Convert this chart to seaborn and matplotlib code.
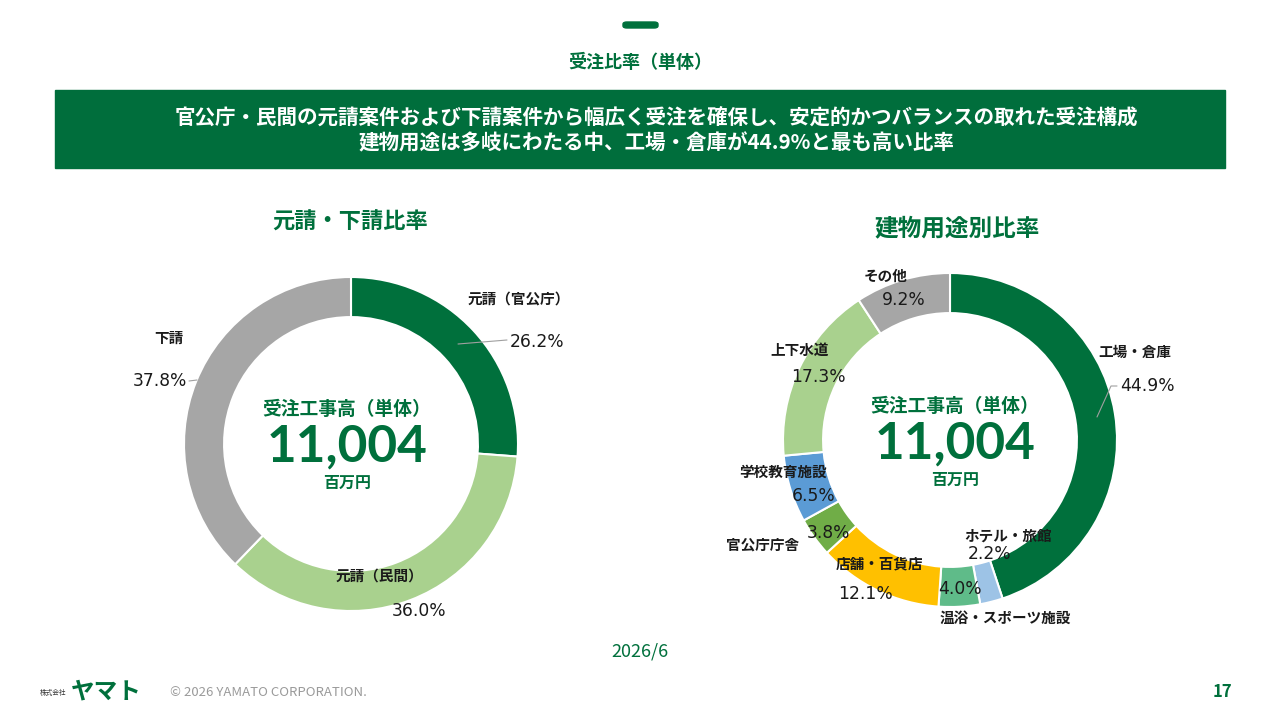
import matplotlib
matplotlib.use("Agg")
import matplotlib.pyplot as plt
import seaborn as sns
from matplotlib.patches import FancyBboxPatch, Rectangle

sns.set_theme(style="white")
plt.rcParams['font.family'] = ['Noto Sans CJK JP', 'DejaVu Sans']

# ---------------- data ----------------
left_categories = ["元請（官公庁）", "元請（民間）", "下請"]
left_values = [26.2, 36.0, 37.8]

right_categories = ["工場・倉庫", "ホテル・旅館", "温浴・スポーツ施設", "店舗・百貨店",
                    "官公庁庁舎", "学校教育施設", "上下水道", "その他"]
right_values = [44.9, 2.2, 4.0, 12.1, 3.8, 6.5, 17.3, 9.2]

total_label = "受注工事高（単体）"
total_value = "11,004"
total_unit = "百万円"

# ---------------- style ----------------
GREEN = "#00703c"
left_colors = [GREEN, "#a9d18e", "#a6a6a6"]
right_colors = [GREEN, "#9dc3e6", "#5fbb89", "#ffc000", "#70ad47", "#5b9bd5", "#a9d18e", "#a6a6a6"]

W, H = 1280, 720
fig = plt.figure(figsize=(W / 100, H / 100), dpi=100)
fig.patch.set_facecolor("white")


def fx(x):
    return x / W


def fy(y):
    return 1 - y / H


def ptext(x, y, s, **kw):
    fig.text(fx(x), fy(y), s, **kw)


# top small bar
fig.patches.append(FancyBboxPatch((fx(623), fy(28)), fx(35), 6 / H,
                                  boxstyle="round,pad=0,rounding_size=0.003",
                                  transform=fig.transFigure, color=GREEN, zorder=2))
ptext(640, 62, "受注比率（単体）", ha="center", va="center", fontsize=13,
      fontweight="bold", color=GREEN)

# banner
fig.patches.append(Rectangle((fx(55), fy(168)), fx(1170), 78 / H,
                             transform=fig.transFigure, color="#006e3c", zorder=1))
ptext(656, 118, "官公庁・民間の元請案件および下請案件から幅広く受注を確保し、安定的かつバランスの取れた受注構成",
      ha="center", va="center", fontsize=14.8, fontweight="bold", color="white")
ptext(656, 143, "建物用途は多岐にわたる中、工場・倉庫が44.9%と最も高い比率",
      ha="center", va="center", fontsize=14.8, fontweight="bold", color="white")

# subtitles
ptext(350, 222, "元請・下請比率", ha="center", va="center", fontsize=16,
      fontweight="bold", color=GREEN)
ptext(957, 228, "建物用途別比率", ha="center", va="center", fontsize=17,
      fontweight="bold", color=GREEN)

R = 167  # outer radius, px
LIM = 1.3


def donut(cx, cy, values, colors):
    size = 2 * LIM * R
    ax = fig.add_axes([fx(cx - size / 2), fy(cy + size / 2), size / W, size / H])
    ax.pie(values, colors=colors, startangle=90, counterclock=False, radius=1,
           wedgeprops=dict(width=0.24, edgecolor="white", linewidth=1.5))
    ax.set_xlim(-LIM, LIM)
    ax.set_ylim(-LIM, LIM)
    ax.set_aspect("equal")
    ax.axis("off")
    return ax


donut(351, 444, left_values, left_colors)
donut(950, 440, right_values, right_colors)


def center_text(cx, y1, y2, y3):
    ptext(cx, y1, total_label, ha="center", va="center", fontsize=13.5,
          fontweight="bold", color=GREEN)
    ptext(cx, y2, total_value, ha="center", va="center", fontsize=37,
          fontweight="bold", color=GREEN, family=["Lato", "DejaVu Sans"])
    ptext(cx, y3, total_unit, ha="center", va="center", fontsize=11.5,
          fontweight="bold", color=GREEN)


center_text(347, 409, 447, 483)
center_text(955, 406, 444, 480)

LAB = dict(fontsize=10.5, fontweight="bold", color="#1a1a1a", va="center")
PCT = dict(fontsize=12.3, color="#1a1a1a", va="center", family=["DejaVu Sans"])


def pct(v):
    return f"{v:.1f}%"


# left labels
ptext(468, 300, left_categories[0], ha="left", **LAB)
ptext(510, 342, pct(left_values[0]), ha="left", **PCT)
ptext(379, 576, left_categories[1], ha="center", **LAB)
ptext(419, 611, pct(left_values[1]), ha="center", **PCT)
ptext(169, 338, left_categories[2], ha="center", **LAB)
ptext(187, 381, pct(left_values[2]), ha="right", **PCT)

# leader lines (figure pixel coords)
fig.lines.append(plt.Line2D([fx(458), fx(507)], [fy(344), fy(340)],
                            transform=fig.transFigure, color="#a0a0a0", lw=0.8))
fig.lines.append(plt.Line2D([fx(189), fx(197)], [fy(381), fy(380)],
                            transform=fig.transFigure, color="#a0a0a0", lw=0.8))
fig.lines.append(plt.Line2D([fx(1097), fx(1111), fx(1117)], [fy(417), fy(386), fy(386)],
                            transform=fig.transFigure, color="#a0a0a0", lw=0.8))

# right labels
right_layout = [
    # (label x, label y, label ha, pct x, pct y, pct ha)
    (1098, 352, "left", 1120, 386, "left"),
    (1008, 536, "center", 990, 554, "center"),
    (1005, 618, "center", 960, 589, "center"),
    (880, 563, "center", 866, 594, "center"),
    (763, 545, "center", 828, 533, "center"),
    (783, 472, "center", 814, 496, "center"),
    (800, 350, "center", 818, 377, "center"),
    (886, 276, "center", 904, 300, "center"),
]
for cat, val, (lx, ly, lha, px_, py_, pha) in zip(right_categories, right_values, right_layout):
    ptext(lx, ly, cat, ha=lha, **LAB)
    ptext(px_, py_, pct(val), ha=pha, **PCT)

# footer
ptext(640, 652, "2026/6", ha="center", va="center", fontsize=13, color=GREEN)
ptext(40, 693, "株式会社", ha="left", va="center", fontsize=4.8, color="#333333")
ptext(71, 691, "ヤマト", ha="left", va="center", fontsize=17, fontweight="bold", color=GREEN)
ptext(170, 692, "© 2026 YAMATO CORPORATION.", ha="left", va="center", fontsize=9.5,
      color="#9a9a9a")
ptext(1222, 692, "17", ha="center", va="center", fontsize=12, fontweight="bold", color=GREEN)

fig.savefig("out.png", dpi=100, facecolor="white")
